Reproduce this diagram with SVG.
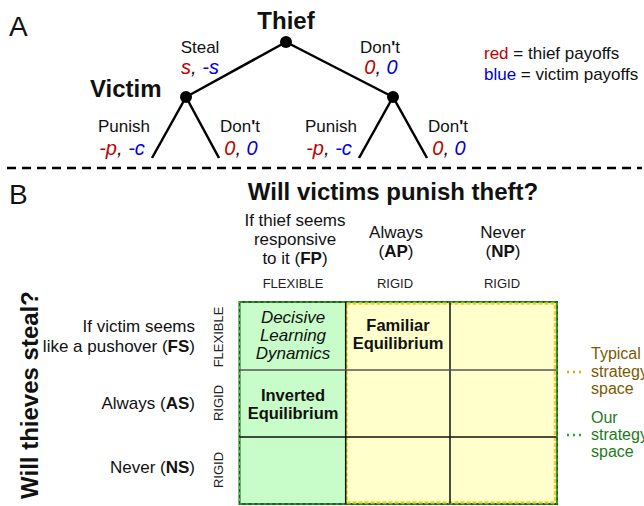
<svg xmlns="http://www.w3.org/2000/svg" width="644" height="506" viewBox="0 0 644 506">
<style>
text{font-family:"Liberation Sans",Arial,sans-serif;fill:#111}
.big{font-size:28px}
.hd{font-size:24px;font-weight:bold}
.lb{font-size:17px}
.lg{font-size:16px}
.it{font-size:17px;font-style:italic}
.pay{font-size:20px;font-style:italic}
.sm{font-size:13px;fill:#222}
.b{font-weight:bold}
.cb{font-size:16.5px;font-weight:bold}
.red{fill:#c00000}
.blue{fill:#0000dd}
.edge{stroke:#000;stroke-width:2.5;fill:none}
.grid{stroke:#111;stroke-width:1.5}
.mid{text-anchor:middle}
.end{text-anchor:end}
.brown{fill:#7a5a00}
.green{fill:#1e7a1e}
</style>
<rect width="644" height="506" fill="#fff"/>
<text class="big" x="9" y="36">A</text>
<text class="big" x="9" y="204">B</text>
<g id="connectors">
<line class="edge" x1="286" y1="42" x2="186" y2="97"/>
<line class="edge" x1="286" y1="42" x2="393" y2="97"/>
<line class="edge" x1="186" y1="97" x2="152" y2="158"/>
<line class="edge" x1="186" y1="97" x2="219" y2="158"/>
<line class="edge" x1="393" y1="97" x2="359" y2="158"/>
<line class="edge" x1="393" y1="97" x2="427" y2="158"/>
</g>
<g id="thief"><circle cx="286" cy="42" r="6" fill="#000"/><text class="hd mid" x="286" y="29">Thief</text></g>
<g id="victim-left"><circle cx="186" cy="97" r="6" fill="#000"/><text class="hd" x="90" y="97">Victim</text></g>
<g id="victim-right"><circle cx="393" cy="97" r="6" fill="#000"/></g>
<g id="labels-a">
<text class="lb mid" x="200" y="53">Steal</text>
<text class="pay mid" x="200" y="74"><tspan class="red">s</tspan>, <tspan class="blue">-s</tspan></text>
<text class="lb mid" x="380" y="53">Don<tspan class="b">'</tspan>t</text>
<text class="pay mid" x="381" y="74"><tspan class="red">0</tspan>, <tspan class="blue">0</tspan></text>
<text class="lb mid" x="124" y="132">Punish</text>
<text class="pay mid" x="122" y="155"><tspan class="red">-p</tspan>, <tspan class="blue">-c</tspan></text>
<text class="lb mid" x="240" y="132">Don<tspan class="b">'</tspan>t</text>
<text class="pay mid" x="241" y="155"><tspan class="red">0</tspan>, <tspan class="blue">0</tspan></text>
<text class="lb mid" x="331" y="132">Punish</text>
<text class="pay mid" x="329" y="155"><tspan class="red">-p</tspan>, <tspan class="blue">-c</tspan></text>
<text class="lb mid" x="448" y="132">Don<tspan class="b">'</tspan>t</text>
<text class="pay mid" x="449" y="155"><tspan class="red">0</tspan>, <tspan class="blue">0</tspan></text>
<text class="lb" x="484" y="59"><tspan class="red">red</tspan> = thief payoffs</text>
<text class="lb" x="484" y="80"><tspan class="blue">blue</tspan> = victim payoffs</text>
</g>
<line x1="7" y1="168" x2="642" y2="168" stroke="#000" stroke-width="2.5" stroke-dasharray="9,6"/>
<g id="headers">
<text class="hd mid" x="393" y="200">Will victims punish theft?</text>
<text class="hd mid" transform="translate(38,395) rotate(-90)">Will thieves steal?</text>
<text class="lb mid" x="295" y="226">If thief seems</text>
<text class="lb mid" x="295" y="245">responsive</text>
<text class="lb mid" x="295" y="264">to it (<tspan class="b">FP</tspan>)</text>
<text class="lb mid" x="396" y="238">Always</text>
<text class="lb mid" x="396" y="257">(<tspan class="b">AP</tspan>)</text>
<text class="lb mid" x="503" y="238">Never</text>
<text class="lb mid" x="503" y="257">(<tspan class="b">NP</tspan>)</text>
<text class="sm mid" x="293" y="288">FLEXIBLE</text>
<text class="sm mid" x="395" y="288">RIGID</text>
<text class="sm mid" x="502" y="288">RIGID</text>
<text class="lb end" x="195" y="332">If victim seems</text>
<text class="lb end" x="195" y="352">like a pushover (<tspan class="b">FS</tspan>)</text>
<text class="lb end" x="195" y="409">Always (<tspan class="b">AS</tspan>)</text>
<text class="lb end" x="195" y="473">Never (<tspan class="b">NS</tspan>)</text>
<text class="sm mid" transform="translate(223,337) rotate(-90)">FLEXIBLE</text>
<text class="sm mid" transform="translate(223,403) rotate(-90)">RIGID</text>
<text class="sm mid" transform="translate(223,470) rotate(-90)">RIGID</text>
</g>
<g id="grid">
<rect x="239.5" y="302" width="317.5" height="202" fill="#c8fcc8" stroke="#1a5e1a" stroke-width="2"/>
<rect x="346.5" y="303.5" width="208.5" height="199" fill="#ffffcc" stroke="#f2d02a" stroke-width="2.5" stroke-dasharray="4,2"/>
<line class="grid" x1="345.7" y1="302" x2="345.7" y2="504"/>
<line class="grid" x1="450" y1="302" x2="450" y2="504"/>
<line x1="239.5" y1="370" x2="557" y2="370" stroke="#555" stroke-width="1.5"/>
<line class="grid" x1="239.5" y1="437" x2="557" y2="437"/>
<rect x="239.5" y="302" width="317.5" height="202" fill="none" stroke="#44c444" stroke-width="1.2" stroke-dasharray="3,3"/>
</g>
<g id="cells">
<text class="it mid" x="293" y="323">Decisive</text>
<text class="it mid" x="293" y="341">Learning</text>
<text class="it mid" x="293" y="359">Dynamics</text>
<text class="cb mid" x="398" y="331">Familiar</text>
<text class="cb mid" x="398" y="349">Equilibrium</text>
<text class="cb mid" x="293" y="401">Inverted</text>
<text class="cb mid" x="293" y="419">Equilibrium</text>
</g>
<g id="legend-b">
<line x1="567" y1="372" x2="583" y2="372" stroke="#d4b400" stroke-width="2.5" stroke-dasharray="2,4"/>
<text class="lg brown" x="591" y="359">Typical</text>
<text class="lg brown" x="591" y="377">strategy</text>
<text class="lg brown" x="591" y="394">space</text>
<line x1="567" y1="435" x2="583" y2="435" stroke="#22aa22" stroke-width="2.5" stroke-dasharray="2,4"/>
<text class="lg green" x="591" y="423">Our</text>
<text class="lg green" x="591" y="440">strategy</text>
<text class="lg green" x="591" y="457">space</text>
</g>
</svg>
